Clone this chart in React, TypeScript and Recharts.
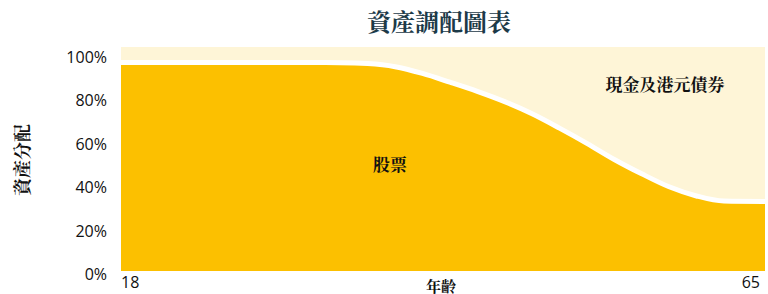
import { AreaChart, Area, XAxis, YAxis } from 'recharts';

// 年齡 (x) 與股票比重 (%)
const ages = [18, 25, 30, 34, 36, 38, 40, 42, 44, 46, 48, 50, 52, 54, 56, 58, 60, 62, 65];
const stockShare = [93.1, 93.1, 93.1, 93, 92.6, 91.2, 88.2, 84.3, 80.2, 75.6, 70.2, 63.8, 57, 49.8, 43.4, 37.6, 33.5, 31.2, 31];
const totalShare = [100, 100, 100, 100, 100, 100, 100, 100, 100, 100, 100, 100, 100, 100, 100, 100, 100, 100, 100];
const yTicks = [0, 20, 40, 60, 80, 100];
const xTicks = [18, 65];

const YELLOW = '#FCC000';
const CREAM = '#FEF5D7';
const CJK = '"Noto Serif CJK TC", "Noto Sans CJK TC", serif';
const LATIN = '"Open Sans", "Noto Sans", sans-serif';

const data = ages.map((age, i) => ({
  age,
  stock: stockShare[i],
  total: totalShare[i],
}));

function YTick({ x, y, payload }: any) {
  // 標籤比格線略為下移
  const dy = 9 + payload.value * 0.07;
  return (
    <text x={x} y={y + dy} textAnchor="end" fontSize={16} fill="#111" fontFamily={LATIN}>
      {`${payload.value}%`}
    </text>
  );
}

function XTick({ x, y, payload }: any) {
  const anchor = payload.value === 18 ? 'start' : 'end';
  return (
    <text x={x} y={y + 17} textAnchor={anchor} fontSize={16} fill="#111" fontFamily={LATIN}>
      {payload.value}
    </text>
  );
}

const labelStyle = { fontSize: 17, fontWeight: 700, fill: '#111', fontFamily: CJK } as const;

export default function App() {
  return (
    <div style={{ position: 'absolute', left: 0, top: 0, width: 768, height: 294, background: '#fff' }}>
      <AreaChart
        width={768}
        height={294}
        data={data}
        margin={{ top: 47, right: 3, bottom: 0, left: 0 }}
      >
        <XAxis
          dataKey="age"
          type="number"
          domain={[18, 65]}
          ticks={xTicks}
          axisLine={false}
          tickLine={false}
          tickSize={0}
          tickMargin={0}
          height={23}
          tick={<XTick />}
        />
        <YAxis
          type="number"
          domain={[0, 100]}
          ticks={yTicks}
          axisLine={false}
          tickLine={false}
          tickSize={0}
          tickMargin={14}
          width={121}
          tick={<YTick />}
        />
        <Area
          dataKey="total"
          type="linear"
          fill={CREAM}
          fillOpacity={1}
          stroke="none"
          isAnimationActive={false}
        />
        <Area
          dataKey="stock"
          type="monotone"
          fill={YELLOW}
          fillOpacity={1}
          stroke="#fff"
          strokeWidth={5}
          isAnimationActive={false}
        />
      </AreaChart>
      {/* 文字標註疊在圖表上方 */}
      <svg width={768} height={294} style={{ position: 'absolute', left: 0, top: 0, pointerEvents: 'none' }}>
        <text x={439} y={31} textAnchor="middle" fontSize={24} fontWeight={700} fill="#1C3A48" fontFamily={CJK}>
          資產調配圖表
        </text>
        <text
          x={21}
          y={160}
          textAnchor="middle"
          dominantBaseline="central"
          transform="rotate(-90 21 160)"
          fontSize={18}
          fontWeight={700}
          fill="#111"
          fontFamily={CJK}
        >
          資產分配
        </text>
        <text x={441} y={285} textAnchor="middle" dominantBaseline="central" {...labelStyle} fontSize={15}>
          年齡
        </text>
        <text x={390} y={163} textAnchor="middle" dominantBaseline="central" {...labelStyle}>
          股票
        </text>
        <text x={665} y={83} textAnchor="middle" dominantBaseline="central" {...labelStyle}>
          現金及港元債券
        </text>
      </svg>
    </div>
  );
}
